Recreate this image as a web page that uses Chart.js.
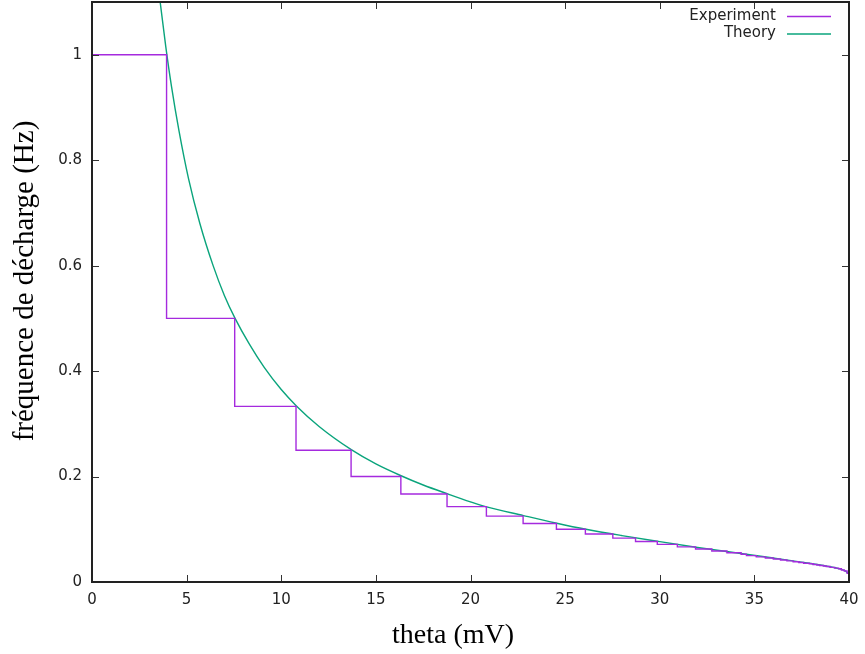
<!DOCTYPE html>
<html lang="fr">
  <head>
    <meta charset="UTF-8" />
    <title>Fréquence de décharge</title>
    <script src="https://cdn.jsdelivr.net/npm/chart.js@4.5.0/dist/chart.umd.min.js"></script>
    <style>
      body { margin: 0; background: #fff; }
    </style>
  </head>
  <body>
    <canvas id="myChart" width="865" height="654"></canvas>

    <script>
      // experiment: step curve, each point = (theta where the drop happens, new level)
      const expTheta = [0, 3.94, 7.54, 10.78, 13.69, 16.32, 18.76, 20.84, 22.78, 24.54, 26.07, 27.52, 28.72, 29.87, 30.93, 31.89, 32.75, 33.55, 34.3, 34.58, 35.1, 35.58, 36.0, 36.38, 36.72, 37.05, 37.35, 37.6, 37.9, 38.1, 38.3, 38.45, 38.65, 38.8, 39.0, 39.25, 39.45, 39.6, 39.75, 39.9, 40];
      const expFreq = [1, 0.5, 0.333, 0.25, 0.2, 0.167, 0.143, 0.125, 0.111, 0.1, 0.0909, 0.0833, 0.0769, 0.0714, 0.0667, 0.0625, 0.0588, 0.0556, 0.0526, 0.05, 0.0476, 0.0455, 0.0435, 0.0417, 0.04, 0.0385, 0.037, 0.0357, 0.0345, 0.0333, 0.0323, 0.0313, 0.0303, 0.0294, 0.0278, 0.0263, 0.025, 0.0227, 0.0208, 0.0167, 0.005];

      // theory curve
      const theoryTheta = [3.55, 3.9, 4.2, 4.6, 5.1, 5.7, 6.4, 7.0, 7.56, 8.3, 9.1, 10, 10.8, 12, 13.7, 15, 16.3, 17.5, 18.8, 20, 20.8, 22.8, 24.5, 26.1, 28, 30, 32, 34, 36, 38, 39, 39.5, 39.8, 40];
      const theoryFreq = [1.115, 1.015, 0.94, 0.855, 0.765, 0.68, 0.6, 0.543, 0.5, 0.452, 0.407, 0.365, 0.334, 0.295, 0.251, 0.224, 0.202, 0.184, 0.167, 0.152, 0.143, 0.126, 0.112, 0.1, 0.088, 0.0765, 0.0655, 0.0555, 0.0455, 0.035, 0.029, 0.025, 0.021, 0.015];

      const xTicks = [0, 5, 10, 15, 20, 25, 30, 35, 40];
      const yTicks = [0, 0.2, 0.4, 0.6, 0.8, 1];

      const expColor = "#a52ade";
      const theoryColor = "#0aa47c";

      // gnuplot-like frame, inward ticks (mirrored), legend and axis titles
      const gnuplotLook = {
        id: "gnuplotLook",
        afterDatasetsDraw(chart) {
          const { ctx, chartArea: a, scales } = chart;
          const x = scales.x;
          const y = scales.y;
          ctx.save();
          ctx.strokeStyle = "#333";
          ctx.lineWidth = 1;
          ctx.beginPath();
          xTicks.forEach((v) => {
            const px = Math.round(x.getPixelForValue(v)) + 0.5;
            ctx.moveTo(px, a.bottom);
            ctx.lineTo(px, a.bottom - 7);
            ctx.moveTo(px, a.top);
            ctx.lineTo(px, a.top + 7);
          });
          yTicks.forEach((v) => {
            const py = Math.round(y.getPixelForValue(v)) + 0.5;
            ctx.moveTo(a.left, py);
            ctx.lineTo(a.left + 7, py);
            ctx.moveTo(a.right, py);
            ctx.lineTo(a.right - 7, py);
          });
          ctx.stroke();

          ctx.strokeStyle = "#222";
          ctx.lineWidth = 2;
          ctx.strokeRect(a.left, a.top, a.width, a.height);

          // legend
          ctx.font = "15px 'DejaVu Sans'";
          ctx.fillStyle = "#222";
          ctx.textAlign = "right";
          ctx.textBaseline = "middle";
          chart.data.datasets.forEach((ds, i) => {
            const ly = 16 + i * 17.5;
            ctx.fillText(ds.label, 776, ly);
            ctx.strokeStyle = ds.borderColor;
            ctx.lineWidth = 1.4;
            ctx.beginPath();
            ctx.moveTo(787, ly + 0.5);
            ctx.lineTo(831, ly + 0.5);
            ctx.stroke();
          });

          // axis titles
          ctx.fillStyle = "#000";
          ctx.textAlign = "center";
          ctx.textBaseline = "alphabetic";
          ctx.font = "28px 'Liberation Serif'";
          ctx.fillText("theta (mV)", 453, 643);
          ctx.translate(33, 281);
          ctx.rotate(-Math.PI / 2);
          ctx.font = "29px 'Liberation Serif'";
          ctx.fillText("fréquence de décharge (Hz)", 0, 0);
          ctx.restore();
        },
      };

      const ctx = document.getElementById("myChart");

      new Chart(ctx, {
        type: "line",
        data: {
          datasets: [
            {
              label: "Experiment",
              data: expTheta.map((t, i) => ({ x: t, y: expFreq[i] })),
              borderColor: expColor,
              borderWidth: 1.4,
              pointRadius: 0,
              stepped: "before",
            },
            {
              label: "Theory",
              data: theoryTheta.map((t, i) => ({ x: t, y: theoryFreq[i] })),
              borderColor: theoryColor,
              borderWidth: 1.4,
              pointRadius: 0,
              cubicInterpolationMode: "monotone",
            },
          ],
        },
        options: {
          responsive: false,
          animation: false,
          layout: { padding: { top: 2, right: 16, left: 0, bottom: 0 } },
          plugins: { legend: { display: false }, tooltip: { enabled: false } },
          scales: {
            x: {
              type: "linear",
              min: 0,
              max: 40,
              grid: { display: false, drawTicks: false },
              border: { display: false },
              afterBuildTicks: (s) => { s.ticks = xTicks.map((v) => ({ value: v })); },
              afterFit: (s) => {
                s.height = 72;
                s.paddingLeft = 0;
                s.paddingRight = 0;
              },
              ticks: {
                font: { family: "DejaVu Sans", size: 15 },
                color: "#222",
                padding: 9,
                maxRotation: 0,
                autoSkip: false,
                callback: (v) => String(v),
              },
            },
            y: {
              min: 0,
              max: 1.1,
              grid: { display: false, drawTicks: false },
              border: { display: false },
              afterBuildTicks: (s) => { s.ticks = yTicks.map((v) => ({ value: v })); },
              afterFit: (s) => {
                s.width = 92;
                s.paddingTop = 0;
                s.paddingBottom = 0;
              },
              ticks: {
                font: { family: "DejaVu Sans", size: 15 },
                color: "#222",
                padding: 10,
                autoSkip: false,
                callback: (v) => String(v),
              },
            },
          },
        },
        plugins: [gnuplotLook],
      });
    </script>
  </body>
</html>
